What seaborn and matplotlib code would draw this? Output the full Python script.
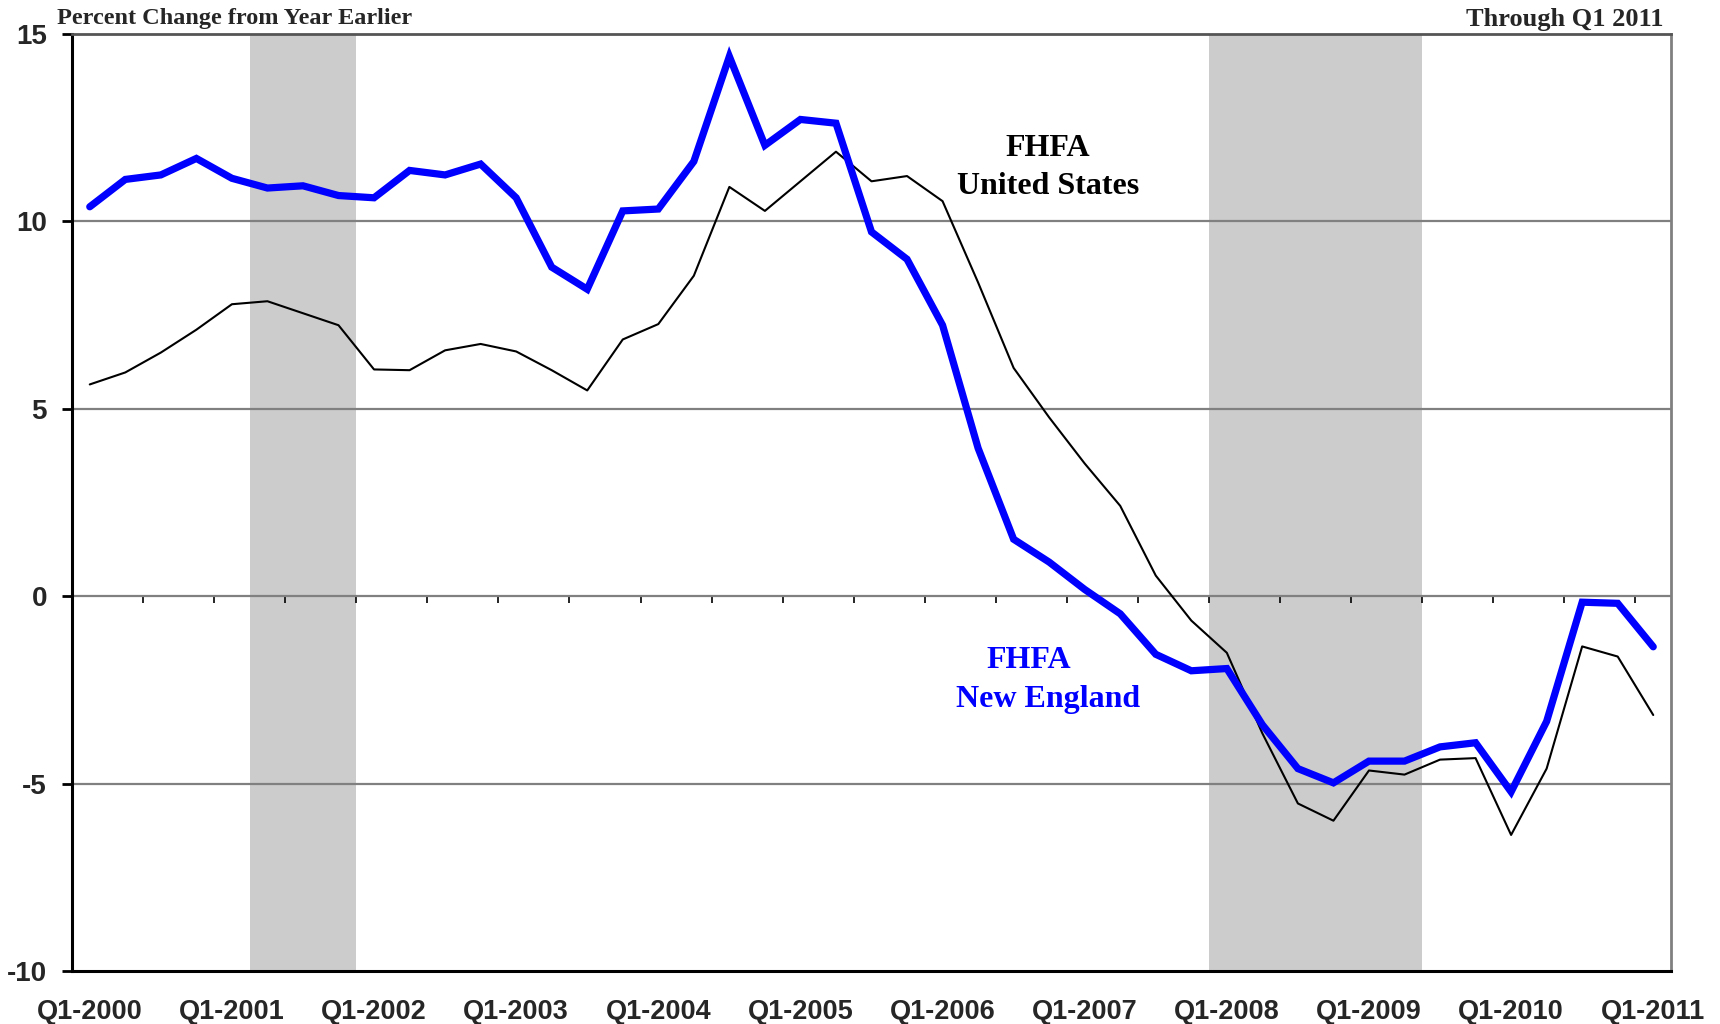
import numpy as np
import pandas as pd
import matplotlib
matplotlib.use("Agg")
import matplotlib.pyplot as plt
import seaborn as sns

# ---------------- data ----------------
quarters = [f"Q{q}-{y}" for y in range(2000, 2012) for q in range(1, 5)][:45]

new_england = [10.39, 11.12, 11.24, 11.68, 11.15, 10.89, 10.95, 10.69, 10.63, 11.36,
               11.24, 11.53, 10.63, 8.78, 8.19, 10.28, 10.33, 11.60, 14.40, 12.03,
               12.72, 12.62, 9.72, 8.99, 7.23, 3.95, 1.52, 0.91, 0.18, -0.47,
               -1.55, -1.99, -1.93, -3.43, -4.60, -4.98, -4.40, -4.40, -4.02, -3.91,
               -5.22, -3.34, -0.16, -0.19, -1.35]

united_states = [5.65, 5.97, 6.50, 7.11, 7.79, 7.87, 7.55, 7.23, 6.05, 6.03,
                 6.56, 6.73, 6.53, 6.03, 5.49, 6.85, 7.26, 8.55, 10.92, 10.28,
                 11.07, 11.86, 11.07, 11.21, 10.54, 8.37, 6.09, 4.77, 3.54, 2.41,
                 0.55, -0.65, -1.51, -3.66, -5.53, -5.99, -4.65, -4.76, -4.36, -4.32,
                 -6.37, -4.60, -1.34, -1.61, -3.17]

tick_labels = ["Q1-2000", "Q1-2001", "Q1-2002", "Q1-2003", "Q1-2004", "Q1-2005",
               "Q1-2006", "Q1-2007", "Q1-2008", "Q1-2009", "Q1-2010", "Q1-2011"]

recessions = [("Q2-2001", "Q4-2001"), ("Q1-2008", "Q2-2009")]

y_ticks = [-10, -5, 0, 5, 10, 15]

# ---------------- build ----------------
idx = list(range(len(quarters)))
df = pd.DataFrame({
    "i": idx * 2,
    "value": new_england + united_states,
    "series": ["New England"] * len(quarters) + ["United States"] * len(quarters),
})

sns.set_theme(style="white")
plt.rcParams["font.family"] = ["Liberation Sans", "DejaVu Sans"]

fig = plt.figure(figsize=(17.2, 10.24), dpi=100)
ax = fig.add_axes([72 / 1720, 1 - 971 / 1024, (1671 - 72) / 1720, (971 - 34) / 1024])

# recession shading
for start, end in recessions:
    a = quarters.index(start) - 0.5
    b = quarters.index(end) + 0.5
    ax.axvspan(a, b, color="#cccccc", lw=0, zorder=0)

# grid lines
for yv in [-5, 0, 5, 10]:
    ax.axhline(yv, color="#808080", lw=1.6, zorder=1)

sns.lineplot(data=df[df.series == "United States"], x="i", y="value",
             color="black", lw=1.5, ax=ax, zorder=3, legend=False)
sns.lineplot(data=df[df.series == "New England"], x="i", y="value",
             color="#0000ff", lw=5.2, ax=ax, zorder=4, legend=False,
             solid_joinstyle="miter")

ax.set_xlim(-0.5, len(quarters) - 0.5)
ax.set_ylim(-10, 15)
ax.set_xlabel("")
ax.set_ylabel("")

sans = ["Liberation Sans", "DejaVu Sans"]
# x tick labels at Q1 of each year
ax.set_xticks([quarters.index(t) for t in tick_labels])
ax.set_xticklabels(tick_labels, fontsize=19.5, fontweight="bold", family=sans)
ax.tick_params(axis="x", length=0, pad=20)

ax.set_yticks(y_ticks)
ax.set_yticklabels([str(v) for v in y_ticks], fontsize=20, fontweight="bold", family=sans)
ax.tick_params(axis="y", length=7, width=2, color="black", direction="out", pad=11, left=True)

# tick marks along the zero line (between categories)
frac0 = (0 - (-10)) / (15 - (-10))
sec = ax.secondary_xaxis(frac0)
sec.set_xticks(np.arange(1.5, len(quarters) - 1, 2))
sec.tick_params(axis="x", length=5, width=1.2, color="black", direction="out",
                labelbottom=False, labeltop=False, bottom=True, top=False)
sec.spines["bottom"].set_visible(False)
sec.spines["top"].set_visible(False)

for side, col, w in [("left", "black", 2.2), ("bottom", "black", 2.2),
                     ("top", "#555555", 2.0), ("right", "#808080", 2.0)]:
    ax.spines[side].set_visible(True)
    ax.spines[side].set_color(col)
    ax.spines[side].set_linewidth(w)

serif = ["Liberation Serif", "DejaVu Serif"]
fig.text(57 / 1720, 1 - 8 / 1024, "Percent Change from Year Earlier", ha="left", va="top",
         fontsize=17.5, fontweight="bold", family=serif)
fig.text(1664 / 1720, 1 - 8 / 1024, "Through Q1 2011", ha="right", va="top",
         fontsize=19, fontweight="bold", family=serif)

ax.text(1048 / 1720, 1 - 148 / 1024, "FHFA", transform=fig.transFigure, ha="center",
        va="center", fontsize=23, fontweight="bold", family=serif, color="black")
ax.text(1048 / 1720, 1 - 186 / 1024, "United States", transform=fig.transFigure, ha="center",
        va="center", fontsize=23, fontweight="bold", family=serif, color="black")
ax.text(1029 / 1720, 1 - 661 / 1024, "FHFA", transform=fig.transFigure, ha="center",
        va="center", fontsize=23, fontweight="bold", family=serif, color="#0000ff")
ax.text(1048 / 1720, 1 - 700 / 1024, "New England", transform=fig.transFigure, ha="center",
        va="center", fontsize=23, fontweight="bold", family=serif, color="#0000ff")

fig.savefig("out.png", dpi=100, facecolor="white")
